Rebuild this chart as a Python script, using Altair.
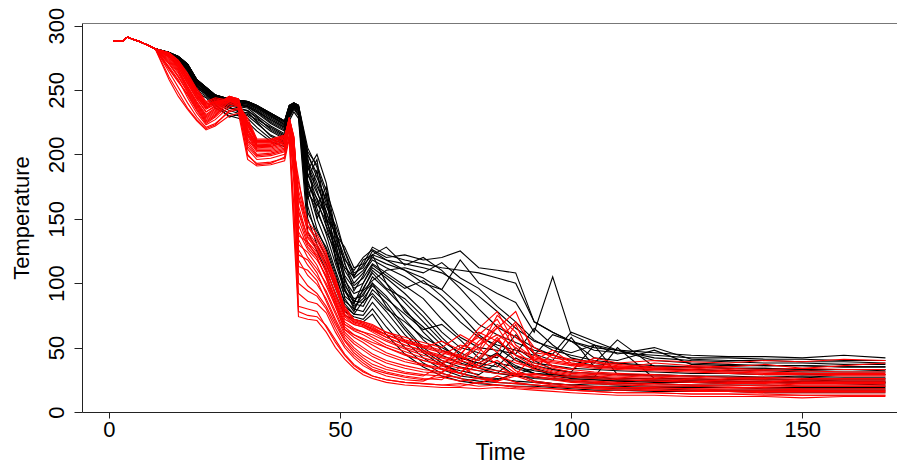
import altair as alt
import pandas as pd

# first readings, common to every run
head_time = [1, 3, 4, 7, 10]
head_temp = [288, 288, 291, 287, 282]

# sampling times for the rest of each run
time = [13, 15, 17, 19, 21, 23, 26, 28, 30, 32, 35, 38, 39, 40, 41, 43, 45, 47,
        49, 51, 53, 55, 57, 60, 64, 68, 72, 76, 80, 84, 88, 92, 96, 100, 105,
        110, 118, 126, 134, 142, 150, 159, 168]

black_runs = [
    [276, 270, 262, 248, 244, 236, 230, 228, 225, 218, 210, 206, 226, 233, 228, 140, 125, 110, 92, 75, 72, 70, 76, 60, 45, 35, 28, 24, 22, 21, 20, 20, 19, 18, 17, 17, 16, 16, 16, 15, 15, 15, 15],
    [277, 271, 264, 250, 245, 238, 232, 230, 228, 221, 212, 208, 228, 235, 230, 150, 130, 115, 96, 78, 74, 72, 80, 66, 50, 38, 30, 26, 24, 23, 22, 21, 20, 19, 19, 18, 18, 17, 17, 17, 17, 17, 17],
    [277, 272, 265, 252, 246, 240, 234, 232, 230, 224, 215, 210, 230, 236, 232, 160, 135, 120, 100, 82, 76, 75, 85, 72, 55, 42, 33, 28, 26, 25, 30, 24, 22, 21, 20, 20, 19, 19, 19, 18, 18, 18, 18],
    [278, 273, 266, 253, 247, 241, 236, 234, 232, 226, 218, 212, 231, 237, 233, 168, 142, 126, 105, 86, 80, 78, 90, 78, 60, 46, 36, 32, 29, 38, 28, 26, 25, 24, 23, 22, 22, 21, 21, 21, 20, 20, 20],
    [278, 273, 267, 254, 248, 242, 238, 236, 234, 228, 220, 214, 232, 237, 234, 175, 150, 132, 110, 90, 84, 82, 95, 85, 66, 50, 40, 35, 32, 30, 42, 34, 28, 27, 26, 25, 24, 24, 23, 23, 23, 22, 22],
    [278, 274, 268, 255, 249, 243, 239, 237, 236, 230, 222, 216, 233, 238, 235, 180, 158, 138, 115, 94, 86, 85, 100, 90, 72, 56, 44, 38, 34, 45, 36, 30, 29, 28, 27, 50, 26, 26, 25, 25, 25, 24, 24],
    [279, 274, 268, 256, 250, 244, 240, 238, 237, 232, 224, 218, 234, 238, 236, 185, 165, 144, 120, 98, 88, 90, 105, 95, 80, 62, 48, 42, 38, 35, 50, 40, 33, 31, 52, 29, 28, 28, 27, 27, 27, 26, 26],
    [279, 275, 269, 257, 251, 245, 241, 239, 238, 234, 226, 220, 235, 239, 237, 190, 172, 150, 126, 102, 92, 95, 110, 100, 85, 70, 55, 46, 40, 55, 44, 38, 36, 34, 33, 32, 31, 30, 30, 29, 29, 29, 29],
    [279, 275, 269, 257, 251, 245, 242, 240, 239, 235, 228, 222, 236, 239, 236, 195, 178, 156, 130, 106, 96, 100, 112, 104, 92, 78, 62, 50, 46, 42, 60, 45, 40, 58, 35, 34, 33, 33, 32, 32, 31, 31, 31],
    [279, 275, 270, 258, 252, 246, 242, 241, 240, 236, 230, 224, 237, 239, 237, 200, 185, 162, 136, 110, 98, 104, 115, 108, 98, 88, 72, 58, 50, 48, 45, 65, 52, 42, 38, 56, 35, 35, 34, 34, 33, 33, 33],
    [279, 276, 270, 258, 252, 246, 243, 241, 240, 237, 231, 225, 237, 240, 238, 205, 190, 168, 142, 115, 100, 108, 118, 112, 105, 96, 85, 70, 58, 52, 48, 44, 60, 55, 42, 40, 48, 37, 36, 36, 36, 35, 35],
    [279, 276, 270, 258, 252, 246, 243, 242, 241, 238, 232, 226, 238, 240, 238, 200, 182, 165, 140, 120, 104, 110, 120, 115, 110, 104, 95, 82, 68, 60, 54, 48, 45, 62, 55, 48, 42, 40, 39, 38, 38, 37, 37],
    [279, 276, 270, 258, 252, 246, 243, 242, 241, 238, 232, 226, 238, 240, 238, 192, 175, 160, 145, 125, 108, 112, 125, 118, 115, 112, 108, 100, 90, 78, 65, 55, 50, 46, 52, 45, 50, 41, 40, 40, 39, 39, 38],
    [279, 276, 270, 258, 252, 246, 243, 242, 241, 238, 232, 226, 237, 239, 237, 185, 170, 155, 138, 128, 112, 115, 128, 122, 118, 115, 112, 110, 108, 104, 100, 70, 62, 55, 48, 46, 44, 42, 42, 41, 41, 40, 40],
    [279, 276, 270, 258, 252, 246, 243, 242, 241, 238, 231, 225, 236, 238, 236, 178, 162, 148, 132, 118, 110, 120, 126, 120, 122, 118, 120, 125, 112, 110, 108, 70, 62, 55, 50, 48, 46, 44, 43, 43, 42, 44, 42],
    [278, 275, 269, 257, 251, 245, 242, 241, 240, 237, 230, 223, 236, 238, 236, 172, 155, 140, 125, 112, 105, 118, 122, 118, 110, 100, 95, 118, 100, 92, 85, 62, 105, 60, 52, 48, 40, 38, 37, 36, 36, 35, 35],
    [277, 272, 266, 251, 247, 239, 229, 231, 233, 225, 214, 209, 229, 236, 231, 198, 150, 170, 118, 96, 80, 92, 100, 82, 64, 48, 38, 30, 27, 26, 24, 23, 22, 21, 22, 21, 20, 20, 19, 19, 19, 19, 19],
    [278, 274, 267, 253, 248, 242, 237, 233, 231, 227, 221, 215, 232, 237, 235, 165, 188, 145, 128, 88, 78, 96, 108, 96, 88, 74, 58, 44, 36, 32, 29, 34, 30, 26, 25, 24, 23, 23, 22, 23, 22, 22, 21],
    [279, 275, 268, 256, 250, 244, 241, 239, 237, 233, 227, 221, 235, 238, 236, 170, 160, 175, 132, 100, 84, 100, 114, 106, 96, 102, 90, 76, 60, 50, 40, 36, 33, 31, 30, 29, 29, 28, 28, 27, 28, 27, 27],
    [278, 274, 268, 255, 249, 243, 239, 238, 237, 233, 225, 219, 233, 238, 236, 182, 196, 150, 140, 104, 86, 94, 102, 110, 112, 108, 116, 104, 96, 82, 70, 56, 48, 44, 40, 38, 36, 35, 34, 34, 33, 33, 33],
    [277, 273, 267, 253, 248, 241, 236, 235, 234, 229, 219, 213, 231, 237, 234, 155, 140, 128, 108, 84, 76, 86, 92, 80, 70, 58, 50, 42, 38, 46, 34, 30, 28, 26, 28, 25, 24, 24, 23, 24, 23, 23, 23],
    [279, 275, 269, 257, 251, 245, 242, 240, 239, 236, 229, 223, 236, 239, 237, 188, 200, 178, 140, 116, 94, 106, 122, 100, 78, 66, 52, 40, 34, 30, 28, 27, 26, 25, 25, 24, 25, 24, 24, 23, 24, 23, 23],
    [279, 276, 270, 258, 252, 246, 243, 242, 241, 238, 232, 226, 238, 240, 238, 202, 192, 172, 150, 124, 106, 114, 122, 128, 114, 120, 110, 96, 80, 66, 58, 50, 44, 40, 36, 38, 34, 33, 32, 33, 32, 33, 32],
    [278, 275, 269, 256, 250, 244, 240, 239, 238, 234, 227, 221, 234, 238, 236, 176, 166, 152, 122, 94, 82, 88, 98, 88, 76, 64, 68, 56, 42, 38, 35, 32, 30, 28, 27, 26, 26, 25, 25, 26, 25, 25, 25],
]

red_runs = [
    [258, 245, 235, 226, 219, 222, 230, 232, 196, 191, 192, 195, 212, 140, 74, 72, 71, 62, 50, 41, 34, 29, 26, 23, 21, 20, 19, 19, 18, 19, 18, 17, 16, 15, 14, 13, 13, 12, 12, 12, 11, 12, 12],
    [264, 252, 240, 229, 221, 224, 233, 235, 199, 193, 194, 197, 216, 160, 78, 75, 74, 67, 56, 45, 37, 32, 28, 25, 23, 22, 21, 20, 23, 21, 20, 19, 18, 17, 16, 15, 15, 14, 14, 14, 13, 13, 13],
    [268, 258, 244, 232, 223, 227, 237, 238, 204, 196, 197, 200, 220, 178, 92, 86, 84, 77, 62, 50, 42, 36, 32, 28, 25, 24, 30, 26, 22, 28, 23, 21, 20, 19, 18, 17, 17, 16, 16, 15, 15, 15, 15],
    [266, 256, 247, 235, 225, 230, 241, 240, 208, 199, 200, 203, 223, 190, 108, 98, 92, 82, 68, 55, 46, 40, 35, 31, 28, 26, 25, 35, 28, 24, 30, 24, 22, 21, 20, 19, 18, 18, 17, 17, 17, 16, 16],
    [271, 261, 249, 237, 227, 232, 243, 241, 212, 202, 202, 205, 225, 198, 118, 106, 99, 88, 72, 58, 50, 44, 40, 35, 31, 29, 28, 27, 38, 45, 32, 27, 25, 23, 22, 21, 20, 20, 19, 19, 18, 18, 18],
    [273, 264, 251, 239, 229, 234, 244, 242, 215, 204, 204, 207, 226, 204, 126, 114, 105, 94, 78, 62, 55, 50, 45, 40, 36, 33, 31, 40, 50, 36, 28, 30, 27, 25, 24, 23, 22, 21, 21, 20, 20, 20, 20],
    [275, 266, 253, 241, 231, 236, 245, 243, 218, 206, 206, 209, 227, 208, 134, 120, 111, 100, 84, 66, 60, 56, 52, 46, 41, 37, 34, 30, 42, 58, 40, 33, 30, 28, 27, 26, 25, 24, 23, 23, 22, 22, 22],
    [276, 268, 255, 243, 233, 238, 245, 243, 220, 208, 208, 211, 228, 211, 140, 126, 118, 106, 88, 70, 65, 62, 58, 52, 47, 42, 38, 45, 60, 72, 48, 36, 32, 30, 29, 28, 27, 26, 25, 25, 24, 24, 24],
    [277, 270, 257, 245, 235, 239, 244, 242, 222, 209, 209, 212, 229, 213, 150, 130, 122, 110, 92, 74, 68, 66, 62, 56, 50, 46, 42, 38, 55, 65, 78, 45, 36, 33, 31, 30, 29, 28, 27, 27, 26, 26, 26],
    [278, 271, 259, 247, 237, 240, 244, 241, 224, 210, 210, 213, 228, 214, 160, 135, 126, 114, 96, 78, 70, 68, 64, 58, 52, 48, 44, 52, 48, 75, 62, 40, 38, 36, 34, 33, 32, 31, 30, 29, 29, 28, 28],
    [276, 268, 256, 244, 236, 241, 243, 240, 226, 211, 211, 214, 227, 211, 166, 140, 130, 118, 100, 82, 72, 70, 68, 62, 56, 52, 48, 44, 62, 55, 70, 50, 42, 40, 38, 36, 34, 33, 32, 31, 30, 30, 30],
    [279, 272, 261, 249, 239, 242, 242, 238, 222, 211, 211, 214, 225, 207, 172, 145, 135, 122, 104, 80, 72, 70, 67, 62, 58, 54, 50, 60, 52, 68, 58, 46, 44, 41, 39, 37, 35, 34, 33, 32, 32, 31, 31],
    [278, 270, 258, 246, 238, 240, 240, 237, 210, 205, 206, 210, 222, 200, 178, 148, 138, 124, 98, 75, 70, 68, 65, 60, 55, 50, 55, 48, 65, 78, 52, 42, 40, 38, 36, 35, 33, 32, 31, 30, 30, 29, 29],
    [279, 273, 262, 250, 240, 243, 241, 239, 216, 207, 208, 212, 224, 203, 182, 138, 128, 112, 90, 72, 68, 66, 63, 58, 52, 47, 43, 40, 36, 44, 38, 34, 45, 36, 40, 34, 38, 36, 35, 37, 34, 36, 38],
    [277, 270, 259, 248, 238, 241, 242, 240, 218, 209, 209, 212, 225, 205, 155, 132, 124, 108, 86, 68, 64, 62, 60, 55, 49, 44, 40, 37, 34, 32, 30, 29, 28, 27, 26, 25, 24, 23, 22, 22, 21, 21, 21],
    [279, 273, 263, 251, 241, 244, 242, 238, 228, 212, 212, 215, 224, 209, 145, 128, 120, 104, 82, 64, 60, 57, 54, 50, 45, 40, 37, 34, 32, 30, 29, 44, 35, 33, 42, 38, 40, 39, 38, 40, 39, 41, 40],
    [260, 248, 236, 227, 220, 223, 234, 236, 200, 192, 193, 198, 214, 152, 82, 80, 78, 66, 54, 44, 36, 31, 28, 25, 23, 22, 21, 22, 20, 21, 19, 18, 18, 17, 16, 15, 15, 14, 14, 13, 13, 13, 13],
    [267, 257, 246, 234, 224, 229, 239, 239, 206, 198, 199, 202, 221, 184, 100, 94, 90, 80, 65, 52, 44, 38, 33, 30, 27, 25, 27, 24, 26, 23, 22, 21, 20, 19, 18, 18, 17, 17, 16, 16, 16, 16, 16],
    [270, 260, 248, 236, 226, 231, 242, 240, 210, 200, 201, 204, 224, 194, 113, 110, 102, 86, 70, 56, 48, 42, 37, 33, 30, 28, 36, 30, 26, 24, 28, 23, 21, 20, 19, 19, 19, 18, 18, 18, 17, 17, 17],
    [272, 263, 250, 238, 228, 233, 244, 242, 214, 203, 203, 206, 226, 201, 122, 118, 108, 92, 76, 60, 53, 48, 43, 38, 34, 31, 30, 44, 34, 40, 30, 28, 26, 24, 23, 22, 21, 21, 20, 21, 20, 20, 20],
    [274, 265, 252, 240, 230, 235, 245, 242, 216, 205, 205, 208, 227, 206, 130, 124, 114, 98, 82, 64, 58, 54, 49, 44, 39, 36, 33, 30, 46, 66, 44, 35, 31, 29, 28, 27, 26, 25, 24, 24, 23, 23, 23],
    [276, 267, 255, 243, 233, 237, 245, 243, 219, 207, 207, 210, 228, 210, 137, 132, 120, 104, 86, 68, 63, 60, 56, 50, 44, 40, 36, 50, 58, 46, 68, 38, 34, 31, 30, 29, 28, 27, 26, 26, 25, 25, 25],
    [277, 269, 258, 246, 236, 239, 244, 241, 223, 210, 210, 213, 228, 213, 156, 136, 128, 116, 98, 80, 71, 69, 66, 60, 54, 50, 46, 42, 52, 60, 50, 41, 39, 37, 35, 34, 33, 32, 31, 30, 30, 29, 29],
    [278, 271, 260, 248, 239, 241, 243, 240, 225, 211, 211, 214, 227, 212, 168, 144, 133, 120, 102, 76, 69, 67, 64, 60, 55, 51, 47, 43, 40, 56, 44, 40, 48, 38, 36, 35, 34, 35, 34, 33, 34, 33, 33],
]

rows = []
for colour, runs in (("black", black_runs), ("red", red_runs)):
    for i, temps in enumerate(runs):
        assert len(temps) == len(time), (colour, i, len(temps))
        for t, v in zip(head_time + time, head_temp + temps):
            rows.append({"run": f"{colour}{i}", "colour": colour, "Time": t, "Temperature": v})
df = pd.DataFrame(rows)

FONT = "Liberation Sans"
x_scale = alt.Scale(domain=[-5.84, 170.5], nice=False, zero=False)
y_scale = alt.Scale(domain=[0, 302], nice=False)

x_axis = alt.Axis(
    values=[0, 50, 100, 150], grid=False, tickSize=6, tickColor="#222",
    domainColor="#222", labelFont=FONT, labelFontSize=22, labelColor="black",
    labelPadding=1, title="Time", titleFont=FONT, titleFontSize=23,
    titleFontWeight="normal", titleColor="black", titleX=418, titleY=47,
    titleAlign="center", titleBaseline="alphabetic",
)
y_axis = alt.Axis(
    values=[0, 50, 100, 150, 200, 250, 300], grid=False, tickSize=8,
    tickColor="#222", domainColor="#222", labelFont=FONT, labelFontSize=22,
    labelColor="black", labelAngle=270, labelAlign="center",
    labelBaseline="alphabetic", labelPadding=11, title="Temperature",
    titleFont=FONT, titleFontSize=22, titleFontWeight="normal",
    titleColor="black", titleAngle=270, titleX=-54, titleY=194.5,
    titleAlign="center", titleBaseline="alphabetic",
)
top_axis = alt.Axis(orient="top", labels=False, ticks=False, grid=False,
                    domainColor="#777", title="")

base = alt.Chart(df)

black = base.transform_filter(alt.datum.colour == "black").mark_line(
    color="black", strokeWidth=1.1
).encode(
    x=alt.X("Time:Q", scale=x_scale, axis=x_axis),
    y=alt.Y("Temperature:Q", scale=y_scale, axis=y_axis),
    detail="run:N",
)

red = base.transform_filter(alt.datum.colour == "red").mark_line(
    color="#ff0000", strokeWidth=1.1
).encode(
    x=alt.X("Time:Q", scale=x_scale, axis=top_axis),
    y=alt.Y("Temperature:Q", scale=y_scale, axis=None),
    detail="run:N",
)

chart = (
    alt.layer(black, red)
    .resolve_axis(x="independent", y="independent")
    .properties(
        width=815, height=389, autosize="none",
        padding={"left": 74, "top": 15, "right": 0, "bottom": 52},
        background="white",
    )
    .configure_view(stroke=None)
)

chart.save("out.html", embed_options={"renderer": "svg", "actions": False})
